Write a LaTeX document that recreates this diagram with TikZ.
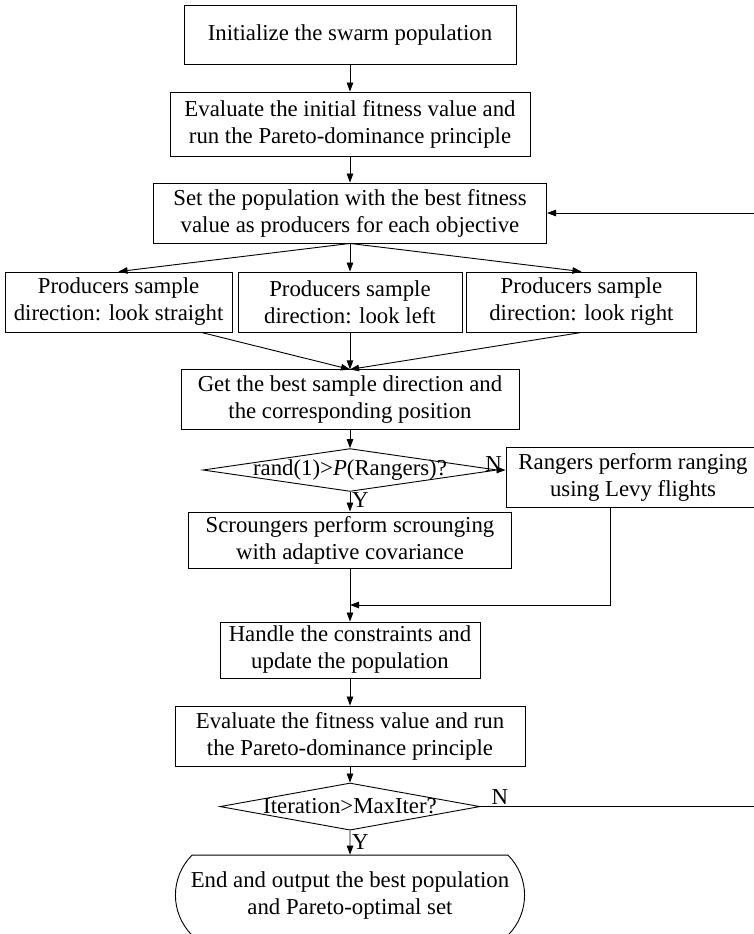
\documentclass[tikz,border=0pt]{standalone}
\usepackage{fontspec}
\setmainfont{Liberation Serif}
\usepackage{tikz}
\usetikzlibrary{arrows.meta,positioning,shapes.geometric,shapes.misc}

\begin{document}
\begin{tikzpicture}[
    procbox/.style={draw, rectangle, align=center, inner sep=1pt, line width=0.9pt, font=\fontsize{22.7}{26.9}\selectfont},
    decision/.style={draw, diamond, inner sep=0pt, line width=0.9pt, font=\fontsize{22.7}{26.9}\selectfont},
    terminal/.style={draw, rounded rectangle, rounded rectangle arc length=90, align=center, inner sep=1pt, line width=0.9pt, font=\fontsize{22.7}{26.9}\selectfont},
    flow/.style={line width=0.9pt, -{Stealth[length=9pt, width=6.5pt, inset=0pt]}},
    branch/.style={inner sep=1pt, font=\fontsize{22.7}{26.9}\selectfont}
]

\useasboundingbox (0,0) rectangle (26.39,-32.69);
\clip (0,0) rectangle (26.39,-32.69);

\node[procbox, minimum width=11.62cm, minimum height=2.07cm] (init) at (12.25,-1.21) {Initialize the swarm population};
\node[procbox, minimum width=12.6cm, minimum height=2.24cm] (evalinit) at (12.25,-4.34) {Evaluate the initial fitness value and\\run the Pareto-dominance principle};
\node[procbox, minimum width=13.76cm, minimum height=2.1cm] (setprod) at (12.25,-7.455) {Set the population with the best fitness\\value as producers for each objective};

\node[procbox, minimum width=7.95cm, minimum height=2.1cm] (lookS) at (4.15,-10.57) {Producers sample\\direction: look straight};
\node[procbox, minimum width=7.84cm, minimum height=2.1cm] (lookL) at (12.25,-10.57) {Producers sample\\direction: look left};
\node[procbox, minimum width=8.02cm, minimum height=2.1cm] (lookR) at (20.35,-10.57) {Producers sample\\direction: look right};

\node[procbox, minimum width=11.83cm, minimum height=2.07cm] (bestdir) at (12.25,-13.98) {Get the best sample direction and\\the corresponding position};
\node[decision, minimum width=10.3cm, minimum height=1.5cm] (rangecheck) at (12.25,-16.45) {\makebox[0pt]{rand(1)>\textit{P}(Rangers)?}};
\node[procbox, minimum width=8.89cm, minimum height=2.07cm] (rangers) at (22.155,-16.71) {Rangers perform ranging\\using Levy flights};
\node[procbox, minimum width=11.3cm, minimum height=1.96cm] (scrounge) at (12.25,-18.9) {Scroungers perform scrounging\\with adaptive covariance};
\coordinate (merge) at (12.25,-21.175);

\node[procbox, minimum width=9.1cm, minimum height=1.96cm] (constr) at (12.25,-22.75) {Handle the constraints and\\update the population};
\node[procbox, minimum width=12.25cm, minimum height=2.1cm] (evalfit) at (12.25,-25.76) {Evaluate the fitness value and run\\the Pareto-dominance principle};
\node[decision, minimum width=9.1cm, minimum height=1.65cm] (itercheck) at (12.25,-28.23) {\makebox[0pt]{Iteration>MaxIter?}};
\node[terminal, minimum width=12.29cm, minimum height=2.8cm] (finish) at (12.25,-31.33) {End and output the best population\\and Pareto-optimal set};
\coordinate (loopx) at (26.6,0);

\draw[flow] (init) -- (evalinit);
\draw[flow] (evalinit) -- (setprod);
\draw[flow] (setprod.south) -- (lookS.north);
\draw[flow] (setprod.south) -- (lookL.north);
\draw[flow] (setprod.south) -- (lookR.north);
\draw[flow] ([xshift=2.9cm]lookS.south) -- (bestdir.north);
\draw[flow] (lookL) -- (bestdir);
\draw[flow] (lookR.south) -- (bestdir.north);
\draw[flow] (bestdir) -- (rangecheck);
\draw[flow] (rangecheck.east) -- (rangecheck.east -| rangers.west);
\draw[flow] (rangecheck) -- (scrounge);
\draw[flow] (scrounge) -- (constr);
\draw[flow] ([xshift=-0.8cm]rangers.south) |- (merge);
\draw[flow] (constr) -- (evalfit);
\draw[flow] (evalfit) -- (itercheck);
\draw[flow] (itercheck) -- (finish);
\draw[flow] (itercheck.east) -- (itercheck.east -| loopx) |- (setprod.east);

\node[branch, anchor=south] (noA) at ([xshift=-4pt, yshift=-3pt]rangecheck.east) {N};
\node[branch, anchor=west] (yesA) at ([xshift=1pt, yshift=-0.3cm]rangecheck.south) {Y};
\node[branch, anchor=south west] (noB) at ([xshift=0.35cm, yshift=1pt]itercheck.east) {N};
\node[branch, anchor=west] (yesB) at ([xshift=1pt, yshift=-0.4cm]itercheck.south) {Y};

\end{tikzpicture}
\end{document}
